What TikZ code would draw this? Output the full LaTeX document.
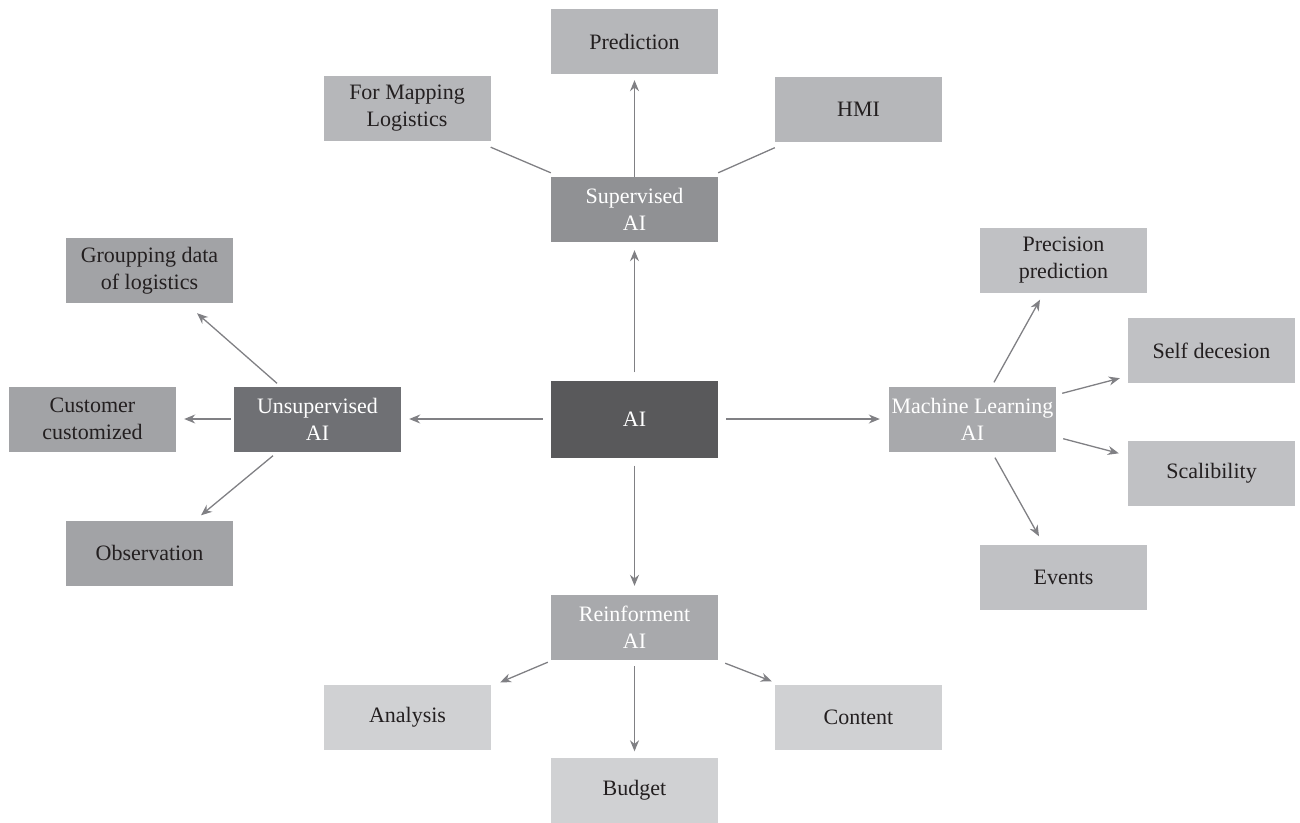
\documentclass[tikz,border=0pt]{standalone}
\usepackage{fontspec}
\setmainfont{Liberation Serif}
\usetikzlibrary{arrows.meta}
\definecolor{cLight}{HTML}{B6B7BA}
\definecolor{cSup}{HTML}{909194}
\definecolor{cMid}{HTML}{A2A3A6}
\definecolor{cUns}{HTML}{6F7074}
\definecolor{cAI}{HTML}{59595B}
\definecolor{cML}{HTML}{A8A9AC}
\definecolor{cMLc}{HTML}{C0C1C4}
\definecolor{cRe}{HTML}{A8A9AC}
\definecolor{cRec}{HTML}{D0D1D3}
\definecolor{cLine}{HTML}{808084}
\definecolor{cText}{HTML}{231F20}
\tikzset{
  box/.style={rectangle, minimum width=167pt, minimum height=65pt, inner sep=0pt,
    align=center, font=\fontsize{22}{27}\selectfont, text=cText},
  wbox/.style={box, text=white},
  arr/.style={draw=cLine, line width=1.3pt, -{Stealth[length=11pt,width=9pt]}},
  ln/.style={draw=cLine, line width=1.3pt}
}
\begin{document}
\begin{tikzpicture}[x=1pt,y=-1pt]
\useasboundingbox (0,0) rectangle (1300,822);
% nodes
\node[wbox, fill=cAI, minimum height=77pt] (ai) at (634.5,419) {AI};
\node[wbox, fill=cSup] (sup) at (634.5,209.5) {Supervised\\AI};
\node[box, fill=cLight] (pred) at (634.5,41.5) {Prediction};
\node[box, fill=cLight] (map) at (407,108.5) {For Mapping\\Logistics};
\node[box, fill=cLight] (hmi) at (858.5,109) {HMI};
\node[wbox, fill=cUns] (unsup) at (317.5,419) {Unsupervised\\AI};
\node[box, fill=cMid] (grp) at (149.5,270.5) {Groupping data\\of logistics};
\node[box, fill=cMid] (cust) at (92.5,419) {Customer\\customized};
\node[box, fill=cMid] (obs) at (149.5,553) {Observation};
\node[wbox, fill=cML] (ml) at (972.5,419) {Machine Learning\\AI};
\node[box, fill=cMLc] (prec) at (1063.5,260) {Precision\\prediction};
\node[box, fill=cMLc] (self) at (1211.5,350.5) {Self decesion};
\node[box, fill=cMLc] (scal) at (1211.5,473) {Scalibility};
\node[box, fill=cMLc] (evt) at (1063.5,577) {Events};
\node[wbox, fill=cRe] (reinf) at (634.5,627.5) {Reinforment\\AI};
\node[box, fill=cRec] (ana) at (407.5,717) {Analysis};
\node[box, fill=cRec] (cont) at (858.5,717) {Content};
\node[box, fill=cRec] (bud) at (634.5,790) {Budget};
% connectors from AI
\draw[arr, shorten <=8pt, shorten >=8pt] (ai.north) -- (sup.south);
\draw[arr, shorten <=8pt, shorten >=8pt] (ai.west) -- (unsup.east);
\draw[arr, shorten <=8pt, shorten >=9pt] (ai.east) -- (ml.west);
\draw[arr, shorten <=8pt, shorten >=9pt] (ai.south) -- (reinf.north);
% supervised
\draw[arr, shorten >=6pt] (sup.north) -- (pred.south);
\draw[ln] ([yshift=4pt]sup.north west) -- ([yshift=-6pt]map.south east);
\draw[ln] ([yshift=4pt]sup.north east) -- ([yshift=-6pt]hmi.south west);
% unsupervised
\draw[arr] ([xshift=-40.5pt,yshift=3pt]unsup.north) -- ([xshift=47.5pt,yshift=-10pt]grp.south);
\draw[arr, shorten <=3pt, shorten >=8pt] (unsup.west) -- (cust.east);
\draw[arr] ([xshift=-44.5pt,yshift=-4pt]unsup.south) -- ([xshift=51.5pt,yshift=5pt]obs.north);
% machine learning
\draw[arr] ([xshift=21.5pt,yshift=4pt]ml.north) -- ([xshift=-23.5pt,yshift=-7pt]prec.south);
\draw[arr] ([xshift=6pt,yshift=-7pt]ml.north east) -- ([xshift=-8pt,yshift=5pt]self.south west);
\draw[arr] ([xshift=7pt,yshift=13pt]ml.south east) -- ([xshift=-9pt,yshift=-13pt]scal.north west);
\draw[arr] ([xshift=22.5pt,yshift=-6pt]ml.south) -- ([xshift=-24.5pt,yshift=8pt]evt.north);
% reinforcement
\draw[arr] ([xshift=-3pt,yshift=-2pt]reinf.south west) -- ([xshift=9pt,yshift=2pt]ana.north east);
\draw[arr, shorten <=6pt, shorten >=6pt] (reinf.south) -- (bud.north);
\draw[arr] ([xshift=7pt,yshift=-3pt]reinf.south east) -- ([xshift=-3pt,yshift=3pt]cont.north west);
\end{tikzpicture}
\end{document}
